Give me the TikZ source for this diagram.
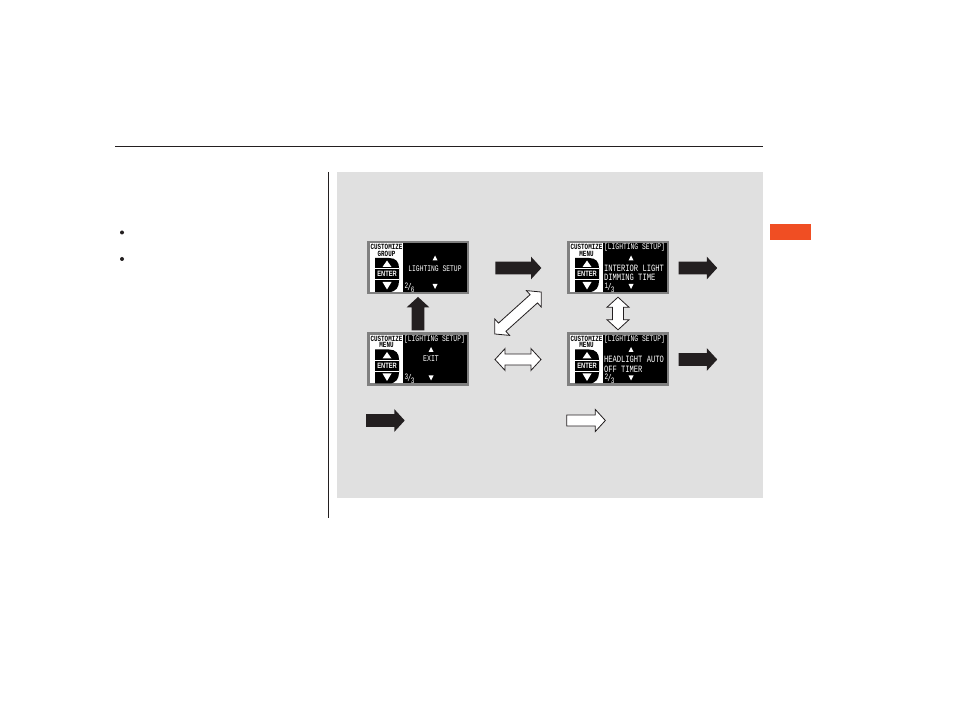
\documentclass[tikz,border=0pt]{standalone}
\usepackage{fontspec}
\setmonofont{Liberation Mono}
\setsansfont{Liberation Sans}
\usetikzlibrary{shapes.arrows}
\definecolor{panelbg}{HTML}{E0E0E0}
\definecolor{framegray}{HTML}{808080}
\definecolor{tabred}{HTML}{F04E23}
\definecolor{ink}{HTML}{231F20}
\tikzset{
  x=0.75pt,y=-0.75pt,
  solidar/.style={single arrow,draw=none,fill=ink,inner sep=4.5pt,outer sep=0pt,
     single arrow head extend=3.75pt,single arrow tip angle=95,minimum width=16.5pt},
  hollowbi/.style={double arrow,draw=ink,line width=0.6pt,fill=white,inner sep=3.75pt,outer sep=0pt,
     double arrow head extend=4pt,double arrow tip angle=95,minimum width=16.5pt},
  hollowone/.style={single arrow,draw=ink,line width=0.6pt,fill=white,inner sep=3.75pt,outer sep=0pt,
     single arrow head extend=4pt,single arrow tip angle=95,minimum width=16.5pt},
  scrhead/.style={inner sep=0pt,outer sep=0pt,text=white,font=\ttfamily\fontsize{4.75}{4.75}\selectfont},
  scrline/.style={inner sep=0pt,outer sep=0pt,anchor=west,text=white,font=\ttfamily\fontsize{5.35}{5.35}\selectfont},
  scrmid/.style={inner sep=0pt,outer sep=0pt,text=white,font=\ttfamily\fontsize{4.9}{4.9}\selectfont},
  scrfrac/.style={inner sep=0pt,outer sep=0pt,anchor=west,text=white,font=\ttfamily\fontsize{5.4}{5.4}\selectfont},
  ttl/.style={inner sep=0pt,outer sep=0pt,text=black,font=\ttfamily\bfseries\fontsize{4.4}{4.4}\selectfont},
  ent/.style={inner sep=0pt,outer sep=0pt,text=white,font=\sffamily\bfseries\fontsize{4.3}{4.3}\selectfont},
  tri/.style={fill=white,draw=none},
}
\newcommand{\tallt}[1]{\scalebox{1}[1.35]{#1}}
\newcommand{\slfrac}[2]{\raisebox{1.1pt}{\scalebox{0.85}{#1}}\kern-0.6pt/\kern-0.6pt\raisebox{-1pt}{\scalebox{0.85}{#2}}}
% #1 name, #2 x, #3 y, #4 title1, #5 title2, #6 x of the small triangles, #7 numerator, #8 denominator
\newcommand{\scrpanel}[8]{%
  \begin{scope}[shift={(#2,#3)}]
    \fill[framegray] (0,0) rectangle (102,53.5);
    \fill[black] (2.5,2.5) rectangle (99.5,51);
    \fill[white] (2.5,2.5) rectangle (36,51);
    \fill[black] (8,17) -- (22,17) .. controls (29,17) and (32,21) .. (32,27) -- (32,40) .. controls (32,46) and (29,51) .. (22,51) -- (8,51) -- cycle;
    \draw[white,line width=0.6pt] (8,27.5) -- (32,27.5) (8,38.5) -- (32,38.5);
    \node[ttl] (#1t1) at (19.5,6) {\tallt{#4}};
    \node[ttl] (#1t2) at (19.5,12.5) {\tallt{#5}};
    \node[ent] (#1e) at (20,33) {\tallt{ENTER}};
    \fill[tri] (20,19.5) -- (24.5,26) -- (15.5,26) -- cycle;
    \fill[tri] (20,48.5) -- (24.5,41) -- (15.5,41) -- cycle;
    \fill[tri] (#6,14.5) -- (#6+2.5,19.5) -- (#6-2.5,19.5) -- cycle;
    \fill[tri] (#6,48) -- (#6+2.5,43) -- (#6-2.5,43) -- cycle;
    \node[scrfrac] (#1f) at (37.5,46.5) {\tallt{\slfrac{#7}{#8}}};
  \end{scope}%
}
\begin{document}
\begin{tikzpicture}
\useasboundingbox (0,0) rectangle (954,709);
\fill[white] (0,0) rectangle (954,709);
\coordinate (ruleL) at (115,146.5); \coordinate (ruleR) at (763,146.5);
\draw[ink,line width=0.75pt] (ruleL) -- (ruleR);
\coordinate (vT) at (328.5,172); \coordinate (vB) at (328.5,518);
\draw[ink,line width=0.75pt] (vT) -- (vB);
\fill[panelbg] (337,172) rectangle (763,498);
\fill[tabred] (770,224) rectangle (811,240.5);
\fill[ink] (122,232.5) circle (2);
\fill[ink] (122,259) circle (2);

\scrpanel{pa}{367}{241}{CUSTOMIZE}{GROUP}{68}{2}{6}
\scrpanel{pb}{367}{332.5}{CUSTOMIZE}{MENU}{64}{3}{3}
\scrpanel{pc}{567}{241}{CUSTOMIZE}{MENU}{64}{1}{3}
\scrpanel{pd}{567}{332.5}{CUSTOMIZE}{MENU}{64}{2}{3}

\node[scrhead] (pah) at (435,268.3) {\tallt{LIGHTING SETUP}};
\node[scrhead] (pbh) at (434.5,339) {\tallt{[LIGHTING SETUP]}};
\node[scrmid] (pbx) at (431,359) {\tallt{EXIT}};
\node[scrhead] (pch) at (634.5,247.5) {\tallt{[LIGHTING SETUP]}};
\node[scrline] (pca) at (604,268) {\tallt{INTERIOR LIGHT}};
\node[scrline] (pcb) at (604,277.7) {\tallt{DIMMING TIME}};
\node[scrhead] (pdh) at (634.5,339) {\tallt{[LIGHTING SETUP]}};
\node[scrline] (pda) at (604,359.5) {\tallt{HEADLIGHT AUTO}};
\node[scrline] (pdb) at (604,369) {\tallt{OFF TIMER}};

\node[solidar,minimum height=34.5pt] (a1) at (515.5,268) {};
\node[solidar,minimum height=25pt,rotate=90] (a2) at (418,316.5) {};
\node[solidar,minimum height=29pt] (a3) at (695,268) {};
\node[solidar,minimum height=29pt] (a4) at (695,359.5) {};
\node[solidar,minimum height=29pt] (a5) at (382.5,420.5) {};
\node[hollowone,minimum height=29pt] (a6) at (583.5,420.5) {};
\node[hollowbi,minimum height=34.5pt] (b1) at (518,359.5) {};
\node[hollowbi,minimum height=24.5pt,rotate=90] (b2) at (618,313.5) {};
\node[hollowbi,minimum height=47pt,rotate=42] (b3) at (518,313) {};
\end{tikzpicture}
\end{document}
